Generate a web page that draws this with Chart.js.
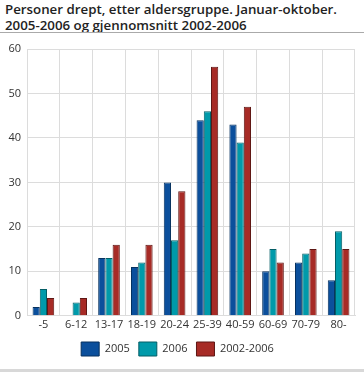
<!DOCTYPE html>
<html>
<head>
<meta charset="utf-8">
<script src="https://cdn.jsdelivr.net/npm/chart.js@4/dist/chart.umd.min.js"></script>
<style>
  body { margin: 0; background: #fff; font-family: "Open Sans", sans-serif; }
  #title { position: absolute; left: 5px; top: 1px; font-size: 13.3px; font-weight: 600; line-height: 16px; color: #222; }
  #rule { position: absolute; left: 0; top: 32px; width: 364px; height: 1px; background: #aaa; }
  #wrap { position: absolute; left: 0; top: 36px; width: 364px; height: 332px; }
  #foot { position: absolute; left: 0; top: 369px; width: 364px; height: 3px; background: #d8d8d8; }
</style>
</head>
<body>
<div id="title">Personer drept, etter aldersgruppe. Januar-oktober.<br>2005-2006 og gjennomsnitt 2002-2006</div>
<div id="rule"></div>
<div id="wrap"><canvas id="barChart"></canvas></div>
<div id="foot"></div>
<script>
// age groups and series
var ageGroups = ['-5', '6-12', '13-17', '18-19', '20-24', '25-39', '40-59', '60-69', '70-79', '80-'];
var values2005 = [2, 0, 13, 11, 30, 44, 43, 10, 12, 8];
var values2006 = [6, 3, 13, 12, 17, 46, 39, 15, 14, 19];
var valuesAvg = [4, 4, 16, 16, 28, 56, 47, 12, 15, 15];
var yTicks = [0, 10, 20, 30, 40, 50, 60];

var tickFont = { family: 'Open Sans', size: 11 };

var ctx = document.getElementById('barChart').getContext('2d');
var barChart = new Chart(ctx, {
    type: 'bar',
    data: {
        labels: ageGroups,
        datasets: [{
            label: '2005',
            data: values2005,
            backgroundColor: '#0b4f9c',
            borderColor: '#06315f',
            borderWidth: 1
        }, {
            label: '2006',
            data: values2006,
            backgroundColor: '#009aaa',
            borderColor: '#045e66',
            borderWidth: 1
        }, {
            label: '2002-2006',
            data: valuesAvg,
            backgroundColor: '#a72b26',
            borderColor: '#5e1714',
            borderWidth: 1
        }]
    },
    options: {
        responsive: true,
        maintainAspectRatio: false,
        animation: false,
        layout: { padding: { top: 13, right: 9, left: 0, bottom: 2 } },
        datasets: { bar: { barPercentage: 1, categoryPercentage: 0.66 } },
        plugins: {
            tooltip: { enabled: false },
            legend: {
                position: 'bottom',
                labels: {
                    boxWidth: 18,
                    boxHeight: 14,
                    padding: 9,
                    color: '#333',
                    font: tickFont
                }
            }
        },
        scales: {
            x: {
                grid: { color: '#dcdcdc', drawTicks: false },
                border: { color: '#dcdcdc' },
                ticks: { color: '#333', font: tickFont, padding: 2, maxRotation: 0, autoSkip: false }
            },
            y: {
                min: 0,
                max: 60,
                afterFit: function (scale) { scale.width = 27; },
                afterBuildTicks: function (scale) {
                    scale.ticks = yTicks.map(function (v) { return { value: v }; });
                },
                grid: { color: '#dcdcdc', drawTicks: false },
                border: { color: '#dcdcdc' },
                ticks: { color: '#333', font: tickFont, padding: 6 }
            }
        }
    }
});
</script>
</body>
</html>
